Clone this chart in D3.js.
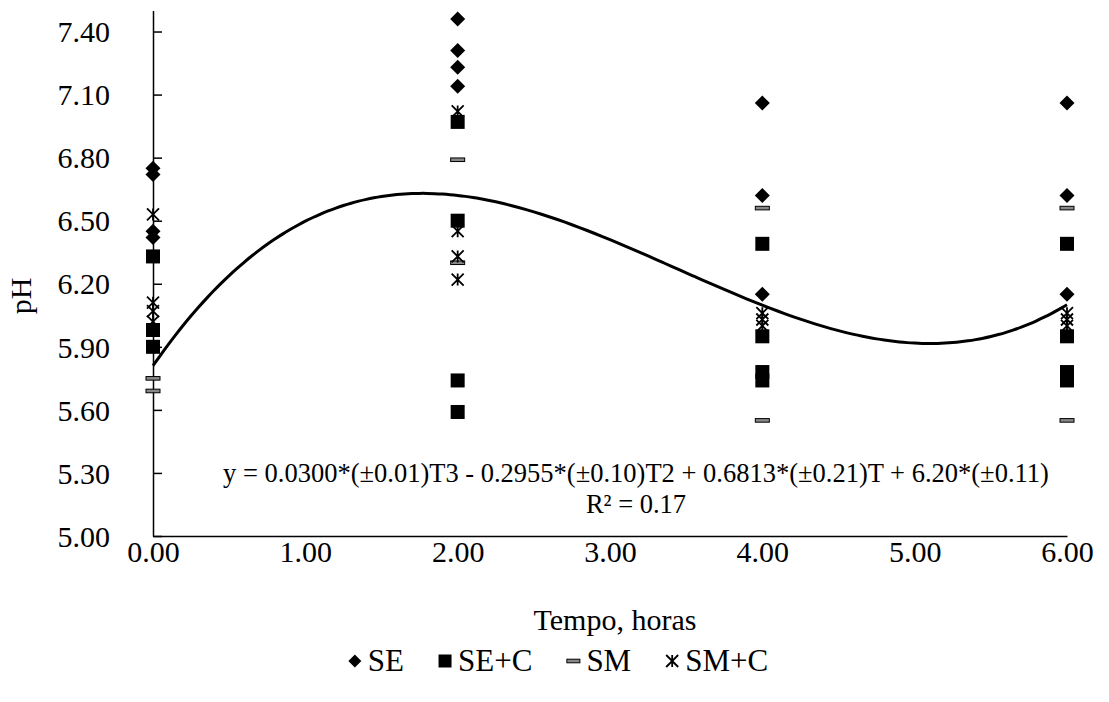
<!DOCTYPE html>
<html>
<head>
<meta charset="utf-8">
<script src="https://cdn.jsdelivr.net/npm/d3@7"></script>
<style>
  html, body { margin: 0; padding: 0; background: #fff; }
  svg { display: block; }
  text { font-family: "Liberation Serif", "Times New Roman", serif; fill: #000; }
</style>
</head>
<body>
<svg id="chart" width="1109" height="702"></svg>
<script>
// Sampling times (hours)
const times = [0, 2, 4, 6];
const seriesNames = ["SE", "SE+C", "SM", "SM+C"];

// pH readings per series, one inner list per sampling time
const seValues  = [[6.75, 6.72, 6.45, 6.42], [7.46, 7.31, 7.23, 7.14], [7.06, 6.62, 6.15], [7.06, 6.62, 6.15]];
const secValues = [[6.33, 5.98, 5.90], [6.97, 6.50, 5.74, 5.59], [6.39, 5.95, 5.78, 5.74], [6.39, 5.95, 5.78, 5.74]];
const smValues  = [[5.75, 5.69], [6.79, 6.30], [6.56, 5.55], [6.56, 5.55]];
const smcValues = [[6.53, 6.11, 6.07, 6.02], [7.02, 6.45, 6.33, 6.22], [6.06, 6.03, 6.00], [6.06, 6.03, 6.00]];

// Cubic trend line coefficients (a*T^3 + b*T^2 + c*T + d)
const trendCoef = [0.0387, -0.3988, 1.0480, 5.81];

// Axis ticks
const xTicks = [0, 1, 2, 3, 4, 5, 6];
const yTicks = [5.0, 5.3, 5.6, 5.9, 6.2, 6.5, 6.8, 7.1, 7.4];

const equationText = "y = 0.0300*(±0.01)T3 - 0.2955*(±0.10)T2 + 0.6813*(±0.21)T + 6.20*(±0.11)";
const r2Text = "R² = 0.17";

const FONT = "Liberation Serif";
const svg = d3.select("#chart");
const x = d3.scaleLinear().domain([0, 6]).range([153, 1067]);
const y = d3.scaleLinear().domain([5.0, 7.5]).range([536, 10.5]);

// Y axis with inside ticks
const yAxis = d3.axisLeft(y).tickValues(yTicks).tickSizeInner(-9).tickSizeOuter(0)
  .tickPadding(43).tickFormat(d3.format(".2f"));
const gy = svg.append("g").attr("transform", `translate(${x(0)},0)`).call(yAxis)
  .attr("font-family", FONT).attr("font-size", 30);
gy.select(".domain").attr("stroke", "#000").attr("stroke-width", 1.5);
gy.selectAll(".tick line").attr("stroke", "#000").attr("stroke-width", 1.5);
gy.selectAll(".tick text").attr("dy", "0.34em");

// X axis
const xAxis = d3.axisBottom(x).tickValues(xTicks).tickSize(0).tickPadding(5)
  .tickFormat(d3.format(".2f"));
const gx = svg.append("g").attr("transform", `translate(0,${y(5.0)})`).call(xAxis)
  .attr("font-family", FONT).attr("font-size", 30);
gx.select(".domain").attr("stroke", "#000").attr("stroke-width", 1.5);

// Axis titles
svg.append("text").attr("x", 615).attr("y", 630).attr("text-anchor", "middle")
  .attr("font-size", 30).text("Tempo, horas");
svg.append("text").attr("transform", "translate(31,296) rotate(-90)")
  .attr("text-anchor", "middle").attr("font-size", 30).text("pH");

// Trend line
const curve = d3.range(0, 6.0001, 0.05).map(t => [t,
  trendCoef[0] * t ** 3 + trendCoef[1] * t ** 2 + trendCoef[2] * t + trendCoef[3]]);
svg.append("path").datum(curve)
  .attr("d", d3.line().x(d => x(d[0])).y(d => y(d[1])).curve(d3.curveBasis))
  .attr("fill", "none").attr("stroke", "#000").attr("stroke-width", 3);

// Marker drawers
const markers = {
  diamond: (g, s) => g.append("path").attr("d", `M0,${-s}L${s},0L0,${s}L${-s},0Z`).attr("fill", "#000"),
  square: (g, s) => g.append("rect").attr("x", -s).attr("y", -s).attr("width", 2 * s).attr("height", 2 * s).attr("fill", "#000"),
  dash: (g, s) => g.append("rect").attr("x", -s).attr("y", -1.8).attr("width", 2 * s).attr("height", 3.6)
    .attr("fill", "#888").attr("stroke", "#000").attr("stroke-width", 1),
  star: (g, s) => g.append("path")
    .attr("d", `M${-s},${-s}L${s},${s}M${-s},${s}L${s},${-s}M0,${-s}L0,${s}`)
    .attr("stroke", "#000").attr("stroke-width", 1.8).attr("fill", "none")
};

const series = [
  { name: seriesNames[0], values: seValues, shape: "diamond", size: 7.5 },
  { name: seriesNames[1], values: secValues, shape: "square", size: 7 },
  { name: seriesNames[2], values: smValues, shape: "dash", size: 7 },
  { name: seriesNames[3], values: smcValues, shape: "star", size: 6 }
];

series.forEach(s => {
  const pts = [];
  s.values.forEach((vals, i) => vals.forEach(v => pts.push([times[i], v])));
  const g = svg.append("g").attr("class", "series");
  pts.forEach(p => {
    const m = g.append("g").attr("transform", `translate(${x(p[0])},${y(p[1])})`);
    markers[s.shape](m, s.size);
  });
});

// Equation
svg.append("text").attr("x", 636).attr("y", 482).attr("text-anchor", "middle")
  .attr("font-size", 26.5).text(equationText);
svg.append("text").attr("x", 636).attr("y", 513).attr("text-anchor", "middle")
  .attr("font-size", 26.5).text(r2Text);

// Legend, laid out from measured text widths and centred
const legend = svg.append("g");
const legendSize = { diamond: 6.5, square: 6.5, dash: 6.5, star: 6 };
const items = series.map(s => {
  const g = legend.append("g");
  const t = g.append("text").attr("font-size", 31).attr("y", 671).text(s.name);
  return { s, g, t, w: t.node().getComputedTextLength() };
});
const markW = 14, markGap = 6, itemGap = 34;
const total = d3.sum(items, d => markW + markGap + d.w) + itemGap * (items.length - 1);
let cx = 558 - total / 2;
items.forEach(d => {
  const m = d.g.append("g").attr("transform", `translate(${cx + markW / 2},661)`);
  markers[d.s.shape](m, legendSize[d.s.shape]);
  d.t.attr("x", cx + markW + markGap);
  cx += markW + markGap + d.w + itemGap;
});
</script>
</body>
</html>
